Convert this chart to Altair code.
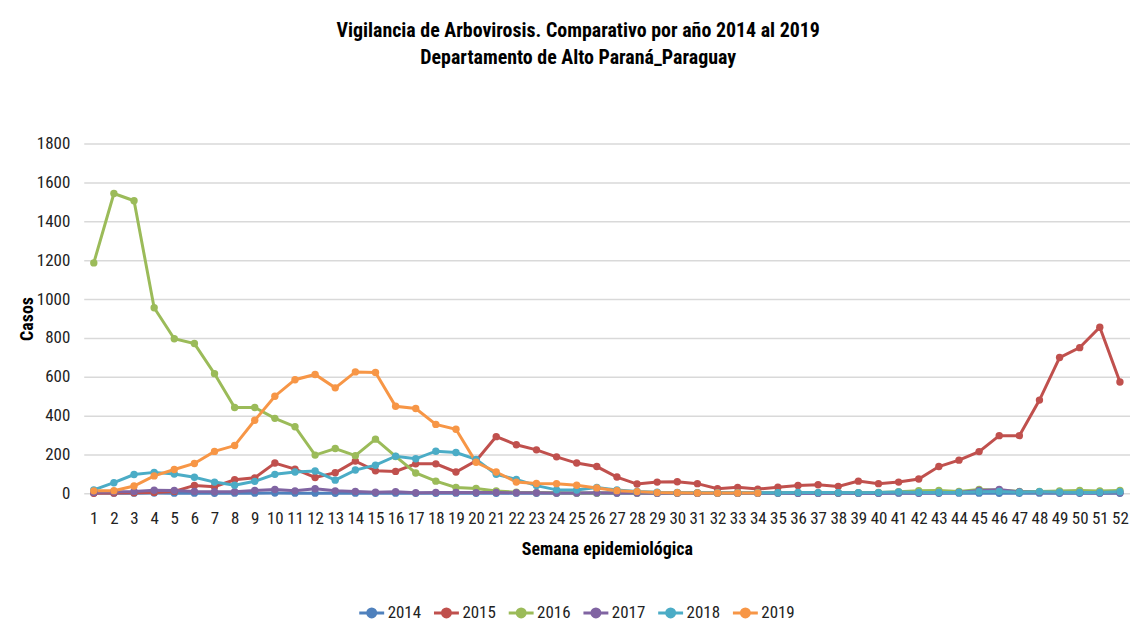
import altair as alt
import pandas as pd

weeks = list(range(1, 53))
years = ["2014", "2015", "2016", "2017", "2018", "2019"]
colors = ["#4F81BD", "#C0504D", "#9BBB59", "#8064A2", "#4BACC6", "#F79646"]

v2014 = [2, 1, 1, 2, 1, 1, 0, 1, 1, 2,
         1, 1, 0, 1, 0, 1, 0, 0, 1, 0,
         0, 1, 0, 0, 1, 0, 0, 0, 1, 0,
         0, 0, 0, 1, 0, 0, 1, 0, 0, 0,
         1, 0, 0, 1, 1, 0, 0, 1, 0, 0,
         1, 0]
v2015 = [0, 2, 3, 5, 10, 41, 34, 70, 80, 156,
         125, 82, 106, 166, 116, 113, 152, 152, 110, 168,
         292, 250, 224, 188, 156, 138, 84, 48, 58, 60,
         50, 24, 31, 22, 32, 41, 44, 36, 63, 50,
         58, 74, 138, 171, 215, 297, 297, 480, 699, 750,
         855, 573]
v2016 = [1186, 1543, 1506, 955, 796, 771, 616, 442, 442, 386,
         343, 197, 231, 194, 279, 190, 105, 63, 30, 25,
         12, 6, 4, 3, 2, 2, 3, 2, 2, 2,
         2, 2, 2, 3, 3, 4, 4, 3, 4, 5,
         8, 14, 15, 10, 20, 16, 10, 10, 12, 15,
         12, 15]
v2017 = [5, 8, 10, 16, 15, 10, 8, 8, 15, 20,
         13, 24, 13, 10, 6, 8, 3, 5, 5, 4,
         5, 3, 3, 2, 2, 3, 2, 2, 1, 2,
         1, 2, 1, 1, 2, 1, 1, 2, 1, 1,
         3, 2, 3, 5, 15, 20, 8, 5, 3, 3,
         2, 3]
v2018 = [18, 55, 97, 108, 100, 83, 58, 42, 62, 98,
         110, 115, 68, 120, 145, 191, 178, 217, 210, 175,
         98, 72, 40, 18, 17, 30, 17, 10, 6, 5,
         4, 3, 3, 3, 3, 5, 4, 4, 3, 4,
         7, 5, 5, 5, 8, 10, 6, 8, 6, 5,
         5, 8]
v2019 = [13, 14, 38, 90, 123, 154, 216, 246, 376, 500,
         585, 612, 543, 625, 622, 448, 437, 355, 330, 160,
         110, 58, 51, 50, 42, 28, 14, 9, 4, 3,
         2, 2, 2, 2]

y_ticks = [0, 200, 400, 600, 800, 1000, 1200, 1400, 1600, 1800]
title_lines = ["Vigilancia de Arbovirosis. Comparativo por año 2014 al 2019",
               "Departamento de Alto Paraná_Paraguay"]

rows = []
for yr, vals in zip(years, [v2014, v2015, v2016, v2017, v2018, v2019]):
    for w, v in zip(weeks, vals):
        rows.append({"semana": w, "casos": v, "anio": yr})
df = pd.DataFrame(rows)

FONT = "Liberation Sans Narrow, Roboto Condensed, Roboto, sans-serif"
SYMBOL = "M-1,0H1M-0.32,0A0.32,0.32,0,1,1,0.32,0A0.32,0.32,0,1,1,-0.32,0Z"

legend = alt.Legend(
    title=None, orient="none", legendX=275, legendY=457, direction="horizontal",
    symbolType=SYMBOL, symbolSize=625, symbolStrokeWidth=3,
    labelFontSize=17, labelFont=FONT, labelColor="#222222", columnPadding=6,
    labelOffset=2, padding=0,
)

x = alt.X("semana:O", title="Semana epidemiológica",
          scale=alt.Scale(padding=0.5),
          axis=alt.Axis(labelAngle=0, labelFontSize=17, labelPadding=17, ticks=False,
                        domain=False, grid=False, titleFontSize=18, titleFontWeight="bold",
                        titlePadding=14, labelOverlap=False))
y = alt.Y("casos:Q", title="Casos",
          scale=alt.Scale(domain=[0, 1800], nice=False),
          axis=alt.Axis(values=y_ticks, format="d", labelFontSize=17, labelPadding=14,
                        ticks=False, domain=False, gridColor="#D9D9D9", gridWidth=1.5,
                        titleFontSize=18, titleFontWeight="bold", titlePadding=0))
color = alt.Color("anio:N", scale=alt.Scale(domain=years, range=colors), legend=legend)

base = alt.Chart(df).encode(x=x, y=y, color=color)
lines = base.mark_line(strokeWidth=3)
points = base.mark_point(filled=True, size=55, opacity=1)

chart = (lines + points).properties(
    width=1050, height=351,
    title=alt.TitleParams(text=title_lines, fontSize=20, fontWeight="bold", lineHeight=27,
                          anchor="middle", frame="bounds", offset=67, dx=4, font=FONT,
                          color="#000000"),
    padding={"left": 10, "top": 12, "right": 0, "bottom": 0},
    background="white",
).configure_view(stroke=None).configure_axis(
    labelFont=FONT, titleFont=FONT, labelColor="#222222", titleColor="#000000"
)

chart.save("out.html", embed_options={"renderer": "svg", "actions": False})
